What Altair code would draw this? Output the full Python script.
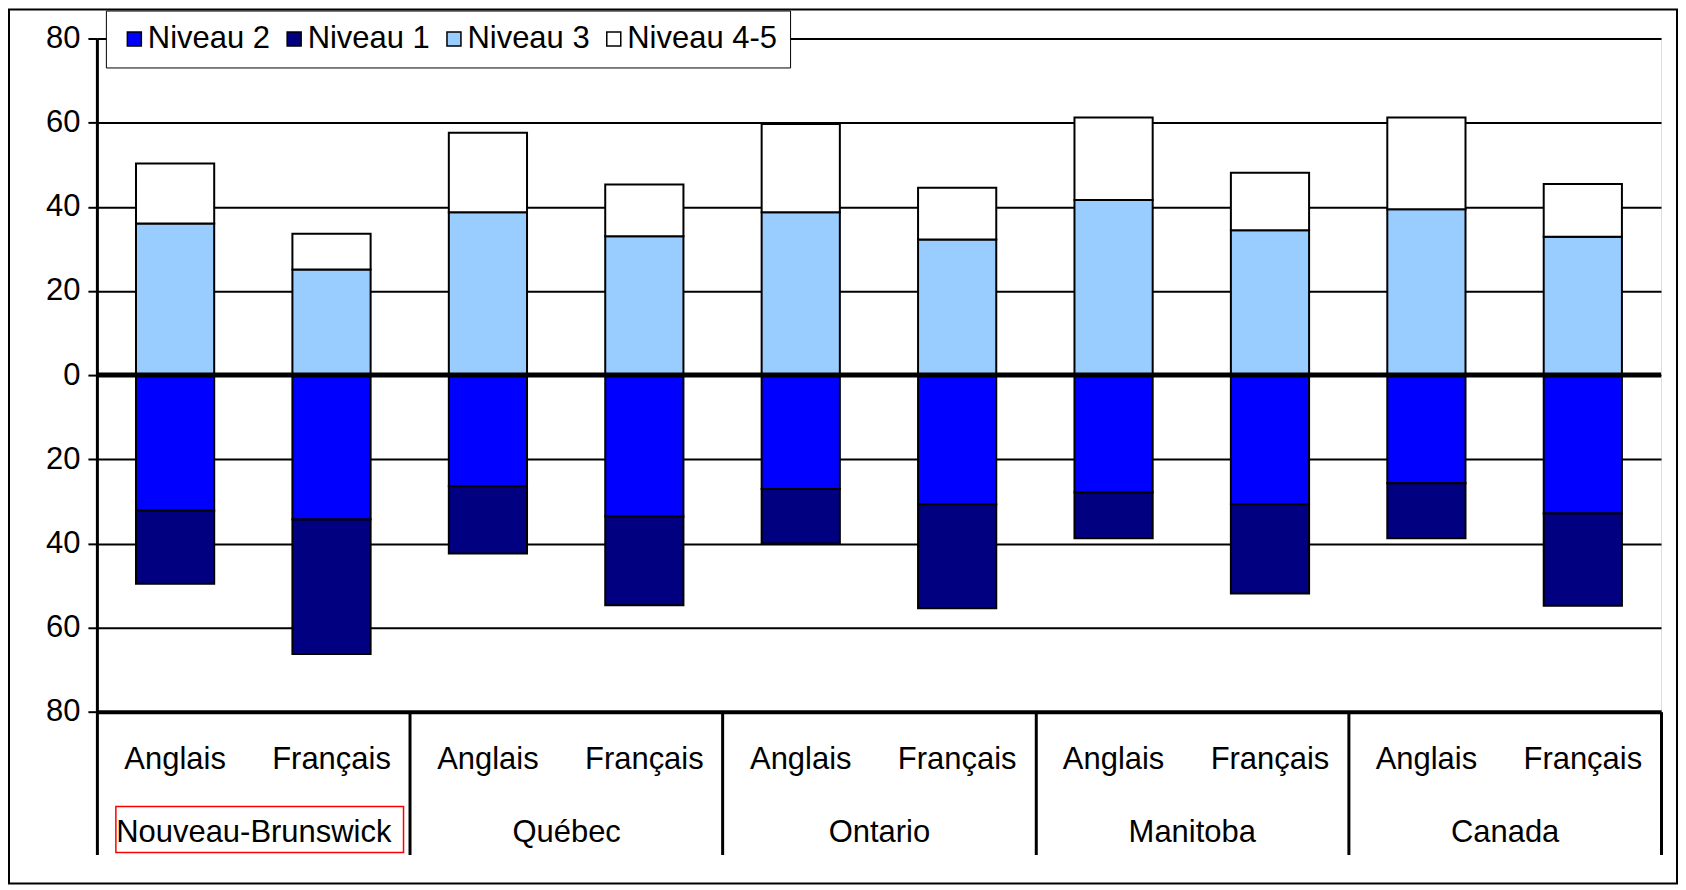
import altair as alt
import pandas as pd

FONT = "Liberation Sans"

groups = ["Nouveau-Brunswick", "Québec", "Ontario", "Manitoba", "Canada"]
languages = ["Anglais", "Français"]
levels = ["Niveau 2", "Niveau 1", "Niveau 3", "Niveau 4-5"]
level_colors = ["#0000FF", "#000080", "#99CCFF", "#FFFFFF"]

# Order of bars: NB-Anglais, NB-Français, Québec-Anglais, Québec-Français, ...
niveau3 = [36.0, 25.1, 38.7, 33.0, 38.7, 32.2, 41.6, 34.4, 39.4, 32.9]
niveau45 = [14.3, 8.5, 18.9, 12.3, 21.0, 12.3, 19.6, 13.7, 21.8, 12.5]
niveau2 = [32.2, 34.3, 26.4, 33.6, 27.1, 30.7, 27.9, 30.7, 25.7, 32.9]
niveau1 = [17.4, 32.0, 16.0, 21.1, 12.9, 24.7, 10.9, 21.2, 13.1, 21.9]

y_ticks = [-80, -60, -40, -20, 0, 20, 40, 60, 80]

keys = []
rows = []
i = 0
for g in groups:
    for lang in languages:
        key = g + "|" + lang
        keys.append(key)
        vals = {"Niveau 2": -niveau2[i], "Niveau 1": -niveau1[i],
                "Niveau 3": niveau3[i], "Niveau 4-5": niveau45[i]}
        for o, lev in enumerate(levels):
            rows.append({"key": key, "groupe": g, "langue": lang, "niveau": lev,
                         "valeur": vals[lev], "ordre": o})
        i += 1
df = pd.DataFrame(rows)

W, H = 1566, 674

bars = alt.Chart(df).mark_bar(stroke="black", strokeWidth=2).encode(
    x=alt.X("key:N", sort=keys,
            scale=alt.Scale(type="band", paddingInner=0.5, paddingOuter=0.25),
            axis=alt.Axis(title=None, orient="bottom",
                          labelExpr="split(datum.label, '|')[1]",
                          ticks=False, domain=False, grid=False, labelAngle=0,
                          labelFontSize=31, labelFont=FONT, labelColor="black",
                          labelBaseline="alphabetic", labelPadding=57)),
    y=alt.Y("valeur:Q", stack="zero",
            scale=alt.Scale(domain=[-80, 80], nice=False),
            axis=alt.Axis(title=None, values=y_ticks, labelExpr="abs(datum.value)",
                          grid=True, gridColor="black", gridWidth=2,
                          domain=True, domainColor="black", domainWidth=3,
                          ticks=True, tickColor="black", tickWidth=2, tickSize=9,
                          labelFontSize=31, labelFont=FONT, labelColor="black",
                          labelPadding=8)),
    color=alt.Color("niveau:N",
                    scale=alt.Scale(domain=levels, range=level_colors),
                    legend=alt.Legend(title=None, orient="none", legendX=9, legendY=-28,
                                      direction="horizontal", columns=4, gridAlign="none",
                                      fillColor="white", strokeColor="black",
                                      padding=13, symbolType="square", symbolSize=196,
                                      symbolStrokeColor="black", symbolStrokeWidth=1.5,
                                      labelFontSize=31, labelFont=FONT, labelColor="black",
                                      labelOffset={"expr": "-2"}, columnPadding=8)),
    order=alt.Order("ordre:Q"),
)

zero = alt.Chart(pd.DataFrame({"z": [0]})).mark_rule(color="black", strokeWidth=5).encode(
    y=alt.datum(0)
)

grp = alt.Chart(pd.DataFrame({"groupe": groups})).mark_text(text="", opacity=0).encode(
    x=alt.X("groupe:N", sort=groups,
            scale=alt.Scale(type="band", paddingInner=0, paddingOuter=0),
            axis=alt.Axis(title=None, orient="bottom", tickBand="extent",
                          ticks=True, tickSize=143, tickWidth=3, tickColor="black",
                          domain=True, domainWidth=4, domainColor="black", grid=False,
                          labelAngle=0, labelFontSize=31, labelFont=FONT,
                          labelColor="black", labelBaseline="alphabetic",
                          labelPadding=-13, labelLimit=0)),
)

frame = alt.Chart(pd.DataFrame({"f": [0]})).mark_rect(
    fill="white", fillOpacity=0, stroke="black", strokeWidth=2
).encode(x=alt.value(-88), x2=alt.value(1582), y=alt.value(-29), y2=alt.value(846))

redbox = alt.Chart(pd.DataFrame({"f": [0]})).mark_rect(
    fill="white", fillOpacity=0, stroke="#FF0000", strokeWidth=1.5
).encode(x=alt.value(19), x2=alt.value(307), y=alt.value(769), y2=alt.value(815))

chart = alt.layer(frame, bars, zero, grp, redbox).resolve_scale(
    x="independent"
).properties(
    width=W, height=H, padding=0
).configure_view(
    stroke="black", strokeWidth=3
).configure_legend(
    strokeWidth=2
).configure(background="white")

chart.save("out.html", embed_options={"renderer": "svg", "actions": False})
